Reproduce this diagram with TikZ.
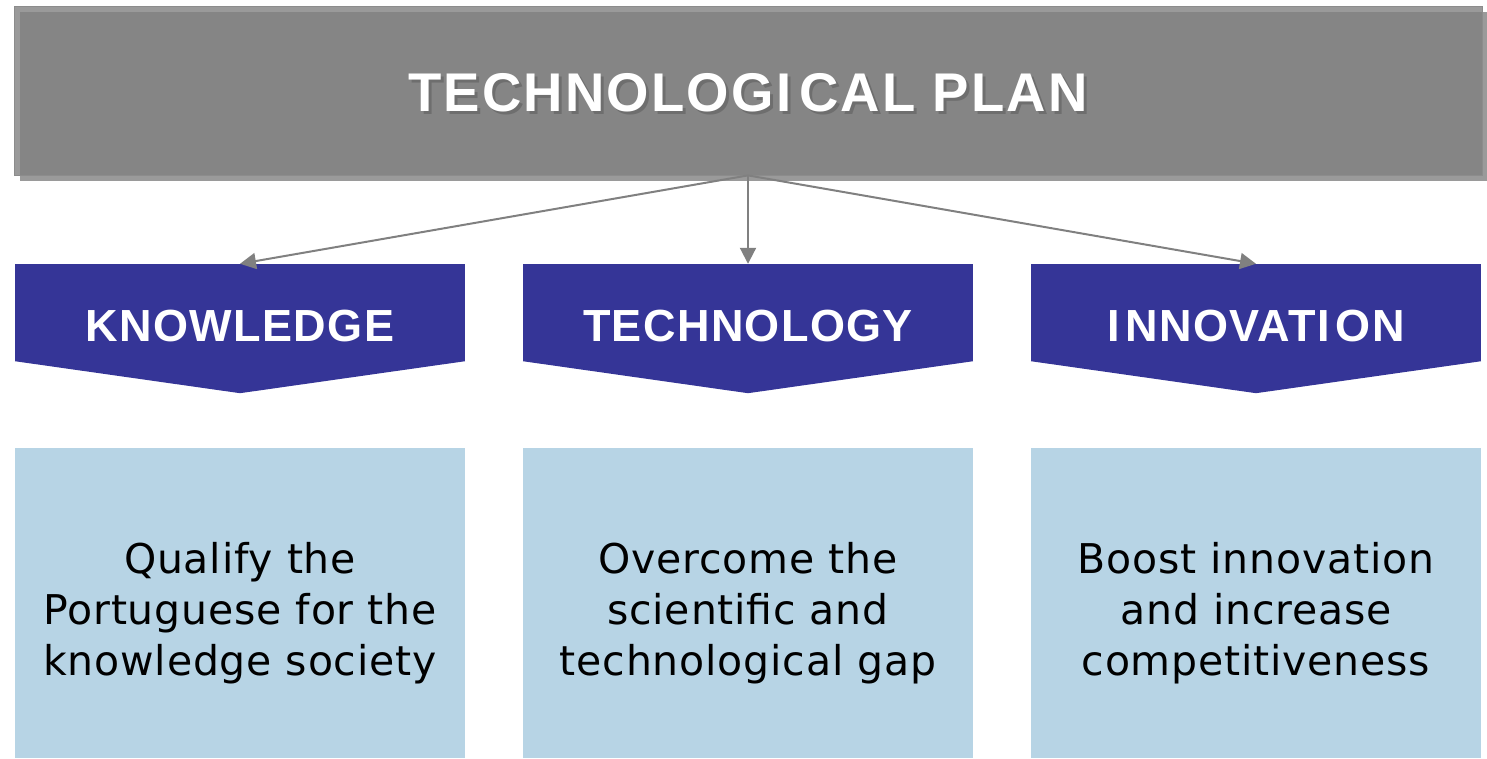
\documentclass[tikz,border=0pt]{standalone}
\usepackage{fontspec}
\setmainfont{DejaVu Sans}[LetterSpace=2]
\newfontfamily\headfont[LetterSpace=4]{Liberation Sans}
\newfontfamily\chevfont[LetterSpace=3]{Liberation Sans}
\usetikzlibrary{arrows.meta,calc}
\definecolor{darkg}{HTML}{858585}
\definecolor{lightg}{HTML}{9A9A9A}
\definecolor{edgeg}{HTML}{8C8C8C}
\definecolor{navy}{HTML}{353597}
\definecolor{pale}{HTML}{B7D4E5}
\definecolor{arrowg}{HTML}{808080}
\definecolor{tshadow}{HTML}{6E6E6E}
\tikzset{
  chevbox/.style={rectangle, fill=navy, draw=none, minimum width=450pt, minimum height=97pt, inner sep=0pt},
  chevtext/.style={anchor=base, text=white, font=\chevfont\bfseries\fontsize{45}{54}\selectfont, inner sep=0pt},
  goalbox/.style={rectangle, fill=pale, draw=none, minimum width=450pt, minimum height=310pt, inner sep=0pt},
  goaltext/.style={align=center, text=black, font=\fontsize{41}{51}\selectfont, inner sep=0pt},
  conn/.style={draw=arrowg, line width=2pt, -{Triangle[length=16pt,width=16pt]}},
}
\begin{document}
\begin{tikzpicture}[x=1pt,y=-1pt]
\useasboundingbox (0,0) rectangle (1487,759);
% top box with shadow
\fill[lightg] (20,12) rectangle (1487,181);
\node[rectangle, fill=lightg, draw=edgeg, line width=0.8pt, minimum width=1468pt, minimum height=169pt, inner sep=0pt] (plan) at (748,90.5) {};
\fill[darkg] (20,12) rectangle (1482,175);
\node[anchor=base, text=tshadow, font=\headfont\bfseries\fontsize{54.5}{60}\selectfont, inner sep=0pt] (titleshadow) at (751,115) {TECHNOLOGI\kern8pt CAL PLAN};
\node[anchor=base, text=white, font=\headfont\bfseries\fontsize{54.5}{60}\selectfont, inner sep=0pt] (title) at (748,112) {TECHNOLOGI\kern8pt CAL PLAN};
% chevrons
\foreach \n/\x/\t in {kb/240/KNOWLEDGE, tb/748/TECHNOLOGY, ib/1256/{I\kern6pt NNOVATI\kern6pt ON}}{
  \node[chevbox] (\n) at (\x,312.5) {};
  \fill[navy] (\n.south west) -- (\n.south east) -- ($(\n.south)+(0,32)$) -- cycle;
  \node[chevtext] (\n-label) at (\x,341) {\t};
}
% arrows
\draw[conn] (plan.south) -- (kb.north);
\draw[conn] (plan.south) -- (tb.north);
\draw[conn] (plan.south) -- (ib.north);
% goal boxes
\node[goalbox] (g1) at (240,603) {};
\node[goalbox] (g2) at (748,603) {};
\node[goalbox] (g3) at (1256,603) {};
\node[goaltext] (g1t) at (240,613) {Qualify the\\Portuguese for the\\knowledge society};
\node[goaltext] (g2t) at (748,613) {Overcome the\\scientific and\\technological gap};
\node[goaltext] (g3t) at (1256,613) {Boost innovation\\and increase\\competitiveness};
\end{tikzpicture}
\end{document}
